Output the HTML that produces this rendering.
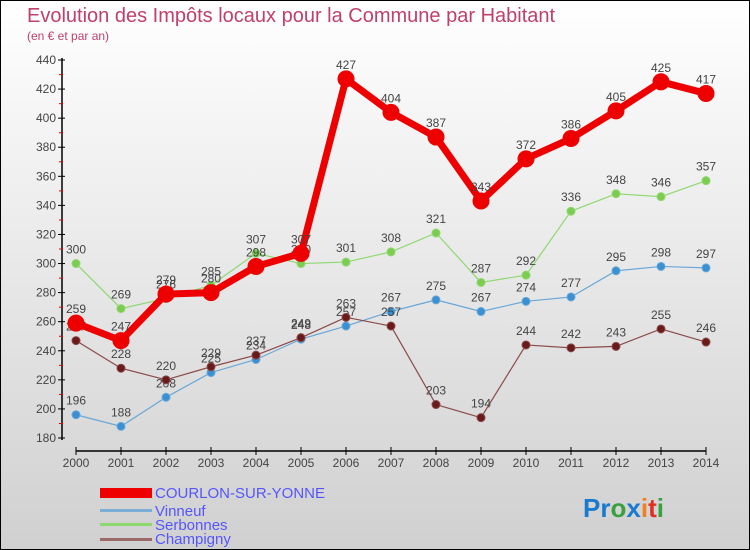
<!DOCTYPE html>
<html><head><meta charset="utf-8"><style>
body{margin:0}
#c{width:750px;height:550px;position:relative;box-sizing:border-box;border:1px solid #000;background:linear-gradient(#fff,#d0d0d0);font-family:"Liberation Sans",sans-serif;overflow:hidden}
</style></head><body>
<div id="c">
<svg id="s" width="750" height="550" style="position:absolute;left:-1px;top:-1px">
<text x="27" y="22" font-size="20" fill="#c0406a">Evolution des Impôts locaux pour la Commune par Habitant</text>
<text x="27" y="40" font-size="12" fill="#c0406a">(en € et par an)</text>
<g id="axes"></g><g id="series"></g>
<g font-size="15" fill="#5555ff">
<rect x="100" y="488" width="52" height="10" fill="#ee0000"/>
<text x="155" y="498">COURLON-SUR-YONNE</text>
<rect x="100" y="509" width="52" height="3" fill="#7aaed6"/>
<text x="155" y="516">Vinneuf</text>
<rect x="100" y="523" width="52" height="3" fill="#8fd870"/>
<text x="155" y="530">Serbonnes</text>
<rect x="100" y="538" width="52" height="3" fill="#9a6a6a"/>
<text x="155" y="544">Champigny</text>
</g>
<text x="583" y="517" font-size="26" font-weight="bold"><tspan fill="#1a7ad0">Pr</tspan><tspan fill="#3aa040">o</tspan><tspan fill="#1a7ad0">x</tspan><tspan fill="#f08020">i</tspan><tspan fill="#e03020">t</tspan><tspan fill="#3aa040">i</tspan></text>
</svg>
</div>
<script>
const years=[2000,2001,2002,2003,2004,2005,2006,2007,2008,2009,2010,2011,2012,2013,2014];
const yTicks=[180,200,220,240,260,280,300,320,340,360,380,400,420,440];
const courlon=[259,247,279,280,298,307,427,404,387,343,372,386,405,425,417];
const vinneuf=[196,188,208,225,234,248,257,267,275,267,274,277,295,298,297];
const serbonnes=[300,269,276,285,307,300,301,308,321,287,292,336,348,346,357];
const champigny=[247,228,220,229,237,249,263,257,203,194,244,242,243,255,246];
const NS="http://www.w3.org/2000/svg";
const xS=i=>76+i*45;
const yS=v=>60+(440-v)*(378/260);
function mk(t,a,p){const e=document.createElementNS(NS,t);for(const k in a)e.setAttribute(k,a[k]);p.appendChild(e);return e;}
const ax=document.getElementById('axes');
const yl=mk('line',{x1:62,y1:58,x2:62,y2:440,stroke:'#000','stroke-width':1.5},ax);


yTicks.forEach(v=>{
 const y=yS(v);
 mk('line',{x1:58,y1:y,x2:65,y2:y,stroke:'#000'},ax);
 if(v<440)mk('line',{x1:59,y1:y-14.5,x2:63,y2:y-14.5,stroke:'#e00'},ax);
 const t=mk('text',{x:56,y:y+4,'font-size':12,fill:'#444','text-anchor':'end'},ax);
 t.textContent=v;
 
 
});
const xl=mk('line',{x1:76,y1:451,x2:706,y2:451,stroke:'#000','stroke-width':1.5},ax);


years.forEach((yr,i)=>{
 const x=xS(i);
 mk('line',{x1:x,y1:447,x2:x,y2:455,stroke:'#000'},ax);
 const t=mk('text',{x:x,y:467,'font-size':12,fill:'#444','text-anchor':'middle'},ax);
 t.textContent=yr;
 
 
});
const sg=document.getElementById('series');
function draw(data,name,color,w,r,dot){
 const g=mk('g',{},sg);
 
 
 mk('polyline',{points:data.map((v,i)=>xS(i)+','+yS(v)).join(' '),fill:'none',stroke:color,'stroke-width':w,'stroke-linejoin':'round'},g);
 data.forEach((v,i)=>{
  const c=mk('circle',{cx:xS(i),cy:yS(v),r:r,fill:dot,stroke:color,'stroke-width':1},g);
  
  
  const t=mk('text',{x:xS(i),y:yS(v)-10,'font-size':12,fill:'#444','text-anchor':'middle'},g);
  t.textContent=v;
  
  
 });
}
draw(serbonnes,'serbonnes','#8fd870',1.2,4,'#7ccc50');
draw(vinneuf,'vinneuf','#6aa8d8',1.2,4,'#3a90d0');
draw(champigny,'champigny','#8a4a4a',1.2,4,'#6a1a1a');
draw(courlon,'courlon','#ee0000',7,8,'#ee0000');
</script>
</body></html>
